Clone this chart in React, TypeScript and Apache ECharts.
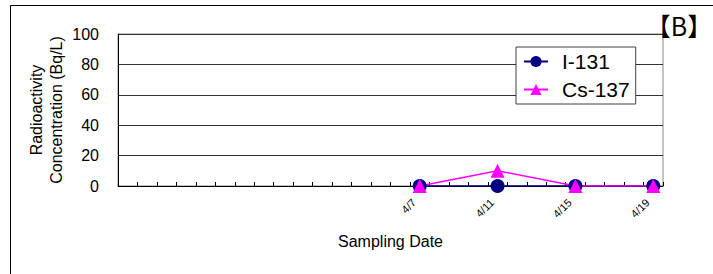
import React, { useEffect, useRef } from "react";
import * as echarts from "echarts";

const categories = [
  "3/23", "3/24", "3/25", "3/26", "3/27", "3/28", "3/29", "3/30", "3/31",
  "4/1", "4/2", "4/3", "4/4", "4/5", "4/6", "4/7", "4/8", "4/9", "4/10",
  "4/11", "4/12", "4/13", "4/14", "4/15", "4/16", "4/17", "4/18", "4/19",
];
const sampleDates = ["4/7", "4/11", "4/15", "4/19"];
const i131 = [0, 0, 0, 0];
const cs137 = [0, 10, 0, 0];
const yTicks = [0, 20, 40, 60, 80, 100];
const yTitleLines = ["Radioactivity", "Concentration (Bq/L)"];

const FONT = "Liberation Sans, Arial, sans-serif";

export default function App() {
  const ref = useRef<HTMLDivElement>(null);
  useEffect(() => {
    if (!ref.current) return;
    const chart = echarts.init(ref.current, null, { renderer: "svg" });
    chart.setOption({
      animation: false,
      backgroundColor: "#ffffff",
      textStyle: { fontFamily: FONT },
      grid: {
        left: 118,
        right: 50,
        top: 34,
        bottom: 88,
        show: true,
        borderColor: "#888888",
        borderWidth: 1,
        backgroundColor: "transparent",
      },
      legend: {
        left: 516,
        top: 47,
        orient: "vertical",
        padding: [4, 6, 4, 7],
        itemGap: 7,
        itemWidth: 24,
        itemHeight: 14,
        backgroundColor: "#ffffff",
        borderColor: "#404040",
        borderWidth: 1,
        textStyle: { fontSize: 21, color: "#000", fontFamily: FONT, padding: [0, 0, 0, 9] },
        data: ["I-131", "Cs-137"],
      },
      xAxis: {
        type: "category",
        data: categories,
        boundaryGap: true,
        name: "Sampling Date",
        nameLocation: "middle",
        nameGap: 47,
        nameTextStyle: { fontSize: 16, color: "#000", fontFamily: FONT },
        axisLine: { lineStyle: { color: "#000", width: 1 } },
        axisTick: { show: true, inside: true, length: 4, interval: 0, lineStyle: { color: "#000" } },
        axisLabel: {
          interval: (_i: number, v: string) => sampleDates.includes(v),
          rotate: 45,
          fontSize: 11,
          color: "#000",
          margin: 9,
          padding: [0, 8, 0, 0],
          fontFamily: FONT,
        },
        splitLine: { show: false },
      },
      yAxis: {
        type: "value",
        min: yTicks[0],
        max: yTicks[yTicks.length - 1],
        interval: 20,
        axisLine: { show: true, lineStyle: { color: "#000", width: 1 } },
        axisTick: { show: false },
        axisLabel: { fontSize: 16, color: "#000", margin: 19, fontFamily: FONT },
        splitLine: { show: true, lineStyle: { color: "#333333", width: 1 } },
      },
      series: [
        {
          name: "I-131",
          type: "line",
          data: sampleDates.map((d, i) => [d, i131[i]]),
          symbol: "circle",
          symbolSize: 14,
          itemStyle: { color: "#000080" },
          lineStyle: { color: "#000080", width: 1.5 },
        },
        {
          name: "Cs-137",
          type: "line",
          data: sampleDates.map((d, i) => [d, cs137[i]]),
          symbol: "triangle",
          symbolSize: 14,
          itemStyle: { color: "#ff00ff" },
          lineStyle: { color: "#ff00ff", width: 1.5 },
        },
      ],
      graphic: [
        {
          type: "rect",
          silent: true,
          z: -10,
          shape: { x: 10.5, y: 5.5, width: 800, height: 400 },
          style: { fill: "none", stroke: "#000", lineWidth: 1 },
        },
        ...yTitleLines.map((t, i) => ({
          type: "text",
          x: 36 + i * 20,
          y: 110,
          rotation: Math.PI / 2,
          style: {
            text: t,
            fontSize: 16,
            fontFamily: FONT,
            fill: "#000",
            align: "center",
            verticalAlign: "middle",
          },
        })),
        {
          type: "text",
          x: 679,
          y: 25,
          style: {
            text: "【B】",
            fontSize: 25,
            fontFamily: "Noto Sans CJK JP, sans-serif",
            fill: "#000",
            align: "center",
            verticalAlign: "middle",
          },
        },
      ],
    });
    return () => chart.dispose();
  }, []);
  return (
    <div
      ref={ref}
      style={{ position: "fixed", left: 0, top: 0, width: 713, height: 274 }}
    />
  );
}
